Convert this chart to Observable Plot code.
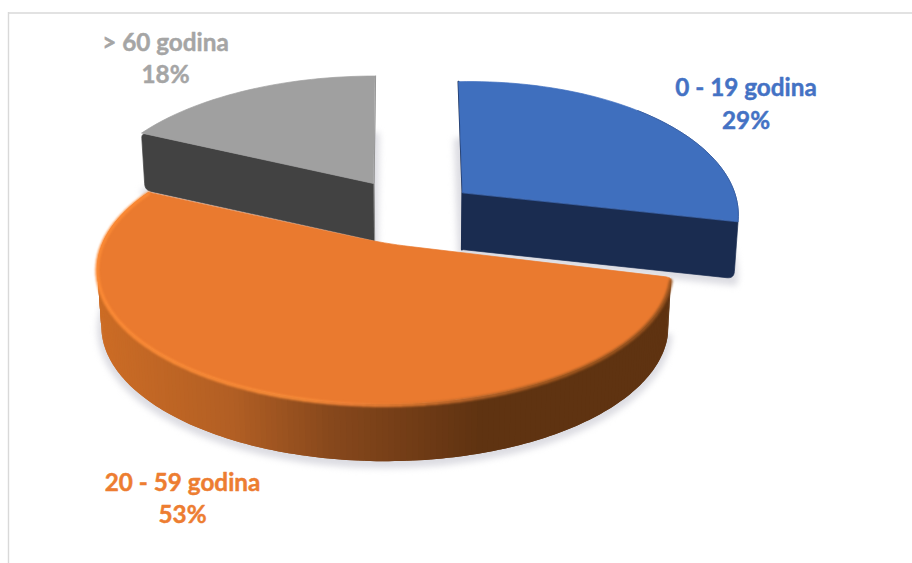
<!DOCTYPE html>
<html>
<head>
<meta charset="utf-8">
<script src="https://cdn.jsdelivr.net/npm/d3@7"></script>
<script src="https://cdn.jsdelivr.net/npm/@observablehq/plot@0.6"></script>
<style>
html,body{margin:0;padding:0;background:#fff;overflow:hidden}
svg{display:block}
</style>
</head>
<body>
<div id="chart"></div>
<script>
// Data
const categories = ["0 - 19 godina", "20 - 59 godina", "> 60 godina"];
const shares = [29, 53, 18];
const topColors = ["#3F6FBE", "#EA7A2F", "#A0A0A0"];
const sideColors = ["#1A2C50", "#5F3311", "#424242"];
const labelColors = ["#4472C4", "#ED7D31", "#A5A5A5"];

// Layout of the exploded 3D pie
const perspective = 0.191, depth = 57, vanishX = 415, contraction = 0.987;
const exploded = [
  {ax: 462, ay: 192, R: 270, Rb: 132, lean: 4, shear: -0.02},
  {ax: 384, ay: 243, R: 282, Rb: 130, lean: 0, shear: 0},
  {ax: 373, ay: 183, R: 278, Rb: 128, lean: -1.5, shear: 0}
];
const labelAnchors = [[745.5, 101.5], [182, 496], [165, 56]];

// Angles from the shares
const total = d3.sum(shares);
let acc = 0;
const slices = shares.map((v, i) => {
  const a0 = acc / total * 360; acc += v; const a1 = acc / total * 360;
  return {i, a0, a1, ...exploded[i]};
});
const top3d = (s, deg) => {
  const t = deg * Math.PI / 180, u = Math.sin(t), v = -Math.cos(t);
  const k = 1 / (1 - perspective * v);
  const X = s.R * u * k;
  return [s.ax + X + s.lean * v, s.ay + s.Rb * v * k + s.shear * X];
};
const drop = ([x, y]) => [vanishX + (x - vanishX) * contraction, y + depth];
const arc = (s, from, to, step = 2) => {
  const n = Math.ceil(Math.abs(to - from) / step);
  return d3.range(n + 1).map(j => top3d(s, from + (to - from) * j / n));
};
// replace a polygon vertex with a short quadratic curve
const rounded = (pts, idx, r) => {
  const m = pts.length, p = pts[idx], a = pts[(idx - 1 + m) % m], b = pts[(idx + 1) % m];
  const to = (q) => { const d = Math.hypot(q[0]-p[0], q[1]-p[1]); const f = Math.min(r / d, .5); return [p[0]+(q[0]-p[0])*f, p[1]+(q[1]-p[1])*f]; };
  const s = to(a), e = to(b);
  const c = d3.range(9).map(j => { const t = j / 8; return [
    (1-t)*(1-t)*s[0] + 2*t*(1-t)*p[0] + t*t*e[0],
    (1-t)*(1-t)*s[1] + 2*t*(1-t)*p[1] + t*t*e[1]]; });
  return [...pts.slice(0, idx), ...c, ...pts.slice(idx + 1)];
};
const poly = (id, color, pts) => pts.map(([x, y]) => ({id, color, x, y}));
const faceLine = (rows, extra = {}) => Plot.line(rows, {x: "x", y: "y", z: "id", fill: "color", stroke: "color", strokeWidth: 0.7, curve: "linear-closed", ...extra});

const sideRamp = d3.scaleLinear([97, 230, 330, 440, 480], ["#CC6C25", "#B25F24", "#87481C", "#6A3814", "#5F3311"]).clamp(true);
const rimRamp = d3.scaleLinear([94, 300, 345, 400, 470, 560, 670], ["#FB8A36", "#F98C38", "#F28338", "#E27A30", "#B8652A", "#A4591F", "#9A5520"]).clamp(true);

const sliceMarks = s => {
  const marks = [];
  const outline = [[s.ax, s.ay], ...arc(s, s.a0, s.a1)];
  const base = outline.map(drop);
  marks.push(Plot.line(base.map(([x, y]) => ({x, y: y + 3})), {x: "x", y: "y", fill: "#DCDCE2", stroke: "#DCDCE2", strokeWidth: 8, curve: "linear-closed", imageFilter: "blur(3px)"}));
  if (s.i === 1) {
    const step = 1, strips = [];
    for (let a = s.a0; a < s.a1; a += step) {
      const b = Math.min(a + step, s.a1);
      const over = Math.min(b + step, s.a1);
      const p = top3d(s, a), q = top3d(s, b), e = top3d(s, over);
      strips.push(...poly("s" + a, sideRamp((p[0] + q[0]) / 2), [p, q, e, drop(e), drop(q), drop(p)]));
    }
    marks.push(Plot.line(strips, {x: "x", y: "y", z: "id", fill: "color", stroke: "none", curve: "linear-closed"}));
    let pts = rounded(outline, 1, 7);
    pts = rounded(pts, 0, 26);
    const rim = [];
    for (let a = s.a0 + 1; a < s.a1; a += 2) {
      const b = Math.min(a + 2, s.a1);
      const p = top3d(s, a), q = top3d(s, b);
      const c = rimRamp((p[0] + q[0]) / 2);
      rim.push({id: "r" + a, color: c, x: p[0], y: p[1] + 1}, {id: "r" + a, color: c, x: q[0], y: q[1] + 1});
    }
    marks.push(faceLine(poly("top" + s.i, topColors[s.i], pts)));
    marks.push(Plot.line(rim, {x: "x", y: "y", z: "id", stroke: "color", strokeWidth: 3.5, strokeLinecap: "round", imageFilter: "blur(1.2px)"}));
  } else {
    const angle = s.i === 0 ? s.a1 : s.a0;
    const end = top3d(s, angle), apex = [s.ax, s.ay];
    const face = s.i === 0 ? [apex, end, drop(end), drop(apex)] : [end, apex, drop(apex), drop(end)];
    let q = s.i === 0 ? rounded(face, 2, 7) : rounded(rounded(face, 3, 6), 0, 5);
    marks.push(faceLine(poly("face" + s.i, sideColors[s.i], q)));
    const farEdge = [top3d(s, s.i === 0 ? s.a0 : s.a1), apex, drop(apex)];
    marks.push(Plot.line(farEdge.map(([x, y]) => ({x, y})), {x: "x", y: "y", stroke: s.i === 0 ? sideColors[0] : "#8A8A8A", strokeWidth: s.i === 0 ? 2 : 1, dx: s.i === 0 ? 0 : 0.6}));
    marks.push(faceLine(poly("top" + s.i, topColors[s.i], outline)));
    if (s.i === 0) {
      marks.push(Plot.line(arc(s, s.a0 + 48, s.a1).map(([x, y]) => ({x, y})), {x: "x", y: "y", stroke: "#3A60A3", strokeWidth: 1}));
    }
  }
  return marks;
};

const labels = categories.map((c, i) => ({
  text: c + "\n" + shares[i] + "%", x: labelAnchors[i][0], y: labelAnchors[i][1], color: labelColors[i]
}));

const plot = Plot.plot({
  width: 912, height: 563,
  marginTop: 0, marginRight: 0, marginBottom: 0, marginLeft: 0,
  x: {domain: [0, 912], range: [0, 912], axis: null},
  y: {domain: [0, 563], range: [0, 563], axis: null},
  color: {type: "identity"},
  style: {background: "#fff"},
  marks: [
    Plot.ruleY([12.5], {x1: 8, x2: 912, stroke: "#D9D9D9", strokeWidth: 1.4}),
    Plot.ruleX([8], {y1: 12, y2: 563, stroke: "#D9D9D9", strokeWidth: 1.4}),
    ...sliceMarks(slices[2]),
    ...sliceMarks(slices[0]),
    ...sliceMarks(slices[1]),
    Plot.text(labels, {x: "x", y: "y", text: "text", fill: "color", stroke: "color", strokeWidth: 0.45, textAnchor: "middle", lineAnchor: "middle",
      fontFamily: "Lato", fontWeight: 700, fontSize: 24.3, lineHeight: 1.34})
  ]
});
document.getElementById("chart").appendChild(plot);
</script>
</body>
</html>
